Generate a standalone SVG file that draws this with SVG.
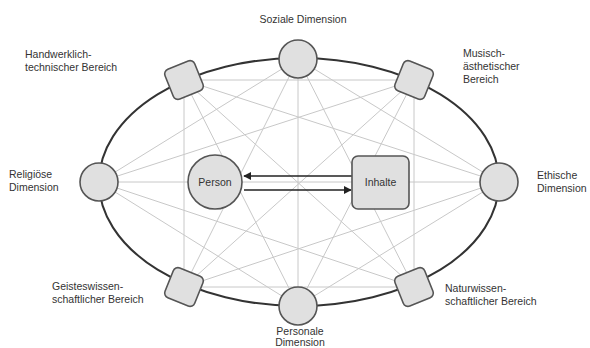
<svg xmlns="http://www.w3.org/2000/svg" width="590" height="348" viewBox="0 0 590 348">
<defs>
<style>
.t{font-family:"Liberation Sans",Arial,sans-serif;font-size:10.5px;fill:#333}
.c{font-family:"Liberation Sans",Arial,sans-serif;font-size:10.5px;fill:#333;text-anchor:middle}
.net line{stroke:#c8c8c8;stroke-width:1}
.nd{fill:#e0e0e0;stroke:#555;stroke-width:1.6}
.ar{stroke:#222;stroke-width:1.4;fill:none}
</style>
<marker id="ah" viewBox="0 0 10 10" refX="9" refY="5" markerWidth="8" markerHeight="8" markerUnits="userSpaceOnUse" orient="auto">
<path d="M0,0 L10,5 L0,10 z" fill="#222"/>
</marker>
</defs>
<g id="connectors">
<g class="net">
<line x1="298" y1="59" x2="414" y2="287"/>
<line x1="298" y1="59" x2="298" y2="306"/>
<line x1="298" y1="59" x2="184" y2="287"/>
<line x1="298" y1="59" x2="99" y2="182"/>
<line x1="298" y1="59" x2="499" y2="182"/>
<line x1="414" y1="80" x2="184" y2="80"/>
<line x1="414" y1="80" x2="414" y2="287"/>
<line x1="414" y1="80" x2="298" y2="306"/>
<line x1="414" y1="80" x2="184" y2="287"/>
<line x1="414" y1="80" x2="99" y2="182"/>
<line x1="499" y1="182" x2="99" y2="182"/>
<line x1="499" y1="182" x2="298" y2="306"/>
<line x1="499" y1="182" x2="184" y2="287"/>
<line x1="499" y1="182" x2="184" y2="80"/>
<line x1="414" y1="287" x2="184" y2="287"/>
<line x1="414" y1="287" x2="99" y2="182"/>
<line x1="414" y1="287" x2="184" y2="80"/>
<line x1="298" y1="306" x2="99" y2="182"/>
<line x1="298" y1="306" x2="184" y2="80"/>
<line x1="184" y1="287" x2="184" y2="80"/>
</g>
<ellipse cx="299" cy="182" rx="200" ry="124" fill="none" stroke="#333" stroke-width="2"/>
<line class="ar" x1="352" y1="176" x2="244" y2="176" marker-end="url(#ah)"/>
<line class="ar" x1="244" y1="190" x2="351" y2="190" marker-end="url(#ah)"/>
</g>
<g id="soziale"><circle class="nd" cx="298" cy="59" r="19"/><text class="c" x="303" y="23">Soziale Dimension</text></g>
<g id="musisch"><rect class="nd" x="-16" y="-16" width="32" height="32" rx="5" transform="translate(414,80) rotate(22)"/><text class="t" x="463" y="57">Musisch-</text><text class="t" x="463" y="70">ästhetischer</text><text class="t" x="463" y="83">Bereich</text></g>
<g id="ethische"><circle class="nd" cx="499" cy="182" r="19"/><text class="t" x="537" y="179">Ethische</text><text class="t" x="537" y="192">Dimension</text></g>
<g id="natur"><rect class="nd" x="-16" y="-16" width="32" height="32" rx="5" transform="translate(414,287) rotate(-22)"/><text class="t" x="445" y="292">Naturwissen-</text><text class="t" x="445" y="305">schaftlicher Bereich</text></g>
<g id="personale"><circle class="nd" cx="298" cy="306" r="19"/><text class="c" x="300" y="335">Personale</text><text class="c" x="300" y="346">Dimension</text></g>
<g id="geistes"><rect class="nd" x="-16" y="-16" width="32" height="32" rx="5" transform="translate(184,287) rotate(22)"/><text class="t" x="52" y="290">Geisteswissen-</text><text class="t" x="52" y="303">schaftlicher Bereich</text></g>
<g id="religioese"><circle class="nd" cx="99" cy="182" r="19"/><text class="t" x="9" y="178">Religiöse</text><text class="t" x="9" y="191">Dimension</text></g>
<g id="handwerk"><rect class="nd" x="-16" y="-16" width="32" height="32" rx="5" transform="translate(184,80) rotate(-22)"/><text class="t" x="25" y="58">Handwerklich-</text><text class="t" x="25" y="71">technischer Bereich</text></g>
<g id="person"><circle class="nd" cx="215" cy="182" r="27"/><text class="c" x="215" y="186">Person</text></g>
<g id="inhalte"><rect class="nd" x="352" y="156" width="57" height="53" rx="6"/><text class="c" x="380.500" y="186">Inhalte</text></g>
</svg>
